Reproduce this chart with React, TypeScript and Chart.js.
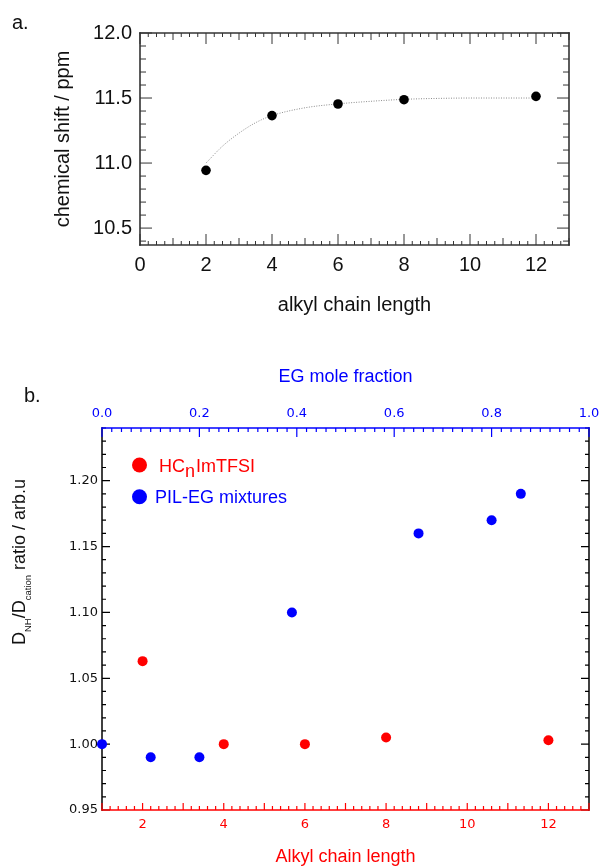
import React, { useEffect, useRef } from 'react';
import { Chart, registerables } from 'chart.js';

Chart.register(...registerables);

// ---------- Panel a data ----------
const CHAIN_LENGTH_A = [2, 4, 6, 8, 12];
const SHIFT_PPM = [10.944, 11.365, 11.454, 11.487, 11.513];
const FIT_X = [2, 2.5, 3, 3.5, 4, 5, 6, 7, 8, 9, 10, 11, 12];
const FIT_Y = [11.0, 11.13, 11.23, 11.31, 11.365, 11.425, 11.455, 11.475, 11.49, 11.497, 11.5, 11.5, 11.5];
const A_X_TICKS = [0, 2, 4, 6, 8, 10, 12];
const A_Y_TICKS = [10.5, 11.0, 11.5, 12.0];

// ---------- Panel b data ----------
const CHAIN_LENGTH_B = [2, 4, 6, 8, 12];
const RATIO_IL = [1.063, 1.0, 1.0, 1.005, 1.003];
const EG_FRACTION = [0.0, 0.1, 0.2, 0.39, 0.65, 0.8, 0.86];
const RATIO_EG = [1.0, 0.99, 0.99, 1.1, 1.16, 1.17, 1.19];
const B_X_TICKS = [2, 4, 6, 8, 10, 12];
const B_X2_TICKS = [0, 0.2, 0.4, 0.6, 0.8, 1.0];
const B_Y_TICKS = [0.95, 1.0, 1.05, 1.1, 1.15, 1.2];

const LEGEND_IL = ['HC', 'n', 'ImTFSI'];
const LEGEND_EG = 'PIL-EG mixtures';
const Y_TITLE_B = [
  { t: 'D', sub: false },
  { t: 'NH', sub: true },
  { t: '/D', sub: false },
  { t: 'cation', sub: true },
  { t: ' ratio / arb.u', sub: false },
];

const SANS = '"Liberation Sans", Arial, sans-serif';
const DV = '"DejaVu Sans", sans-serif';
const RED = '#ff0000';
const BLUE = '#0000ff';

type Level = { step: number; len: number };
type Side = {
  scale: string;
  side: 'left' | 'right' | 'top' | 'bottom';
  color: string;
  width: number;
  tickWidth: number;
  levels: Level[];
};

function framePlugin(sides: Side[], drawText: (ctx: CanvasRenderingContext2D) => void) {
  return {
    id: 'frameTicks',
    beforeDatasetsDraw(chart: any) {
      const { ctx, chartArea } = chart;
      const { left, right, top, bottom } = chartArea;
      ctx.save();
      ctx.lineCap = 'butt';
      for (const s of sides) {
        const sc = chart.scales[s.scale];
        const fine = s.levels[s.levels.length - 1].step;
        const i0 = Math.ceil(sc.min / fine - 1e-6);
        const i1 = Math.floor(sc.max / fine + 1e-6);
        ctx.strokeStyle = s.color;
        ctx.lineWidth = s.tickWidth;
        ctx.beginPath();
        for (let i = i0; i <= i1; i++) {
          const v = i * fine;
          let len = 0;
          for (const lv of s.levels) {
            const r = v / lv.step;
            if (Math.abs(r - Math.round(r)) < 1e-6) {
              len = lv.len;
              break;
            }
          }
          const p = sc.getPixelForValue(v);
          if (s.side === 'left') { ctx.moveTo(left, p); ctx.lineTo(left + len, p); }
          else if (s.side === 'right') { ctx.moveTo(right, p); ctx.lineTo(right - len, p); }
          else if (s.side === 'top') { ctx.moveTo(p, top); ctx.lineTo(p, top + len); }
          else { ctx.moveTo(p, bottom); ctx.lineTo(p, bottom - len); }
        }
        ctx.stroke();
        ctx.lineWidth = s.width;
        const h = s.width / 2;
        ctx.beginPath();
        if (s.side === 'left') { ctx.moveTo(left, top - h); ctx.lineTo(left, bottom + h); }
        else if (s.side === 'right') { ctx.moveTo(right, top - h); ctx.lineTo(right, bottom + h); }
        else if (s.side === 'top') { ctx.moveTo(left - h, top); ctx.lineTo(right + h, top); }
        else { ctx.moveTo(left - h, bottom); ctx.lineTo(right + h, bottom); }
        ctx.stroke();
      }
      ctx.restore();
    },
    afterDraw(chart: any) {
      const ctx = chart.ctx as CanvasRenderingContext2D;
      ctx.save();
      drawText(ctx);
      ctx.restore();
    },
  };
}

function fixedAxis(ticks: number[], decimals: number, opts: any) {
  return {
    type: 'linear',
    grid: { display: false, drawTicks: false },
    border: { display: false },
    afterBuildTicks: (s: any) => {
      s.ticks = ticks.map((v) => ({ value: v }));
    },
    ...opts,
    ticks: {
      autoSkip: false,
      maxRotation: 0,
      callback: (v: any) => Number(v).toFixed(decimals),
      ...opts.ticks,
    },
  };
}

export default function App() {
  const topRef = useRef<HTMLCanvasElement>(null);
  const botRef = useRef<HTMLCanvasElement>(null);

  useEffect(() => {
    Chart.defaults.font.family = SANS;

    const axisGrey = '#333333';
    const xLevels = [{ step: 2, len: 11 }, { step: 1, len: 7 }, { step: 0.25, len: 4 }];
    const yLevels = [{ step: 0.5, len: 12 }, { step: 0.1, len: 6 }];
    const topSides: Side[] = [
      { scale: 'x', side: 'bottom', color: axisGrey, width: 1.6, tickWidth: 1, levels: xLevels },
      { scale: 'x', side: 'top', color: axisGrey, width: 1.6, tickWidth: 1, levels: xLevels },
      { scale: 'y', side: 'left', color: axisGrey, width: 1.6, tickWidth: 1, levels: yLevels },
      { scale: 'y', side: 'right', color: axisGrey, width: 1.6, tickWidth: 1, levels: yLevels },
    ];

    const c1 = new Chart(topRef.current as HTMLCanvasElement, {
      type: 'scatter',
      data: {
        datasets: [
          {
            data: CHAIN_LENGTH_A.map((x, i) => ({ x, y: SHIFT_PPM[i] })),
            backgroundColor: '#000',
            borderWidth: 0,
            pointRadius: 4.8,
            clip: false,
            order: 0,
          } as any,
          {
            data: FIT_X.map((x, i) => ({ x, y: FIT_Y[i] })),
            showLine: true,
            borderColor: '#8a8a8a',
            borderWidth: 1,
            borderDash: [1, 1.5],
            pointRadius: 0,
            cubicInterpolationMode: 'monotone',
            fill: false,
            order: 1,
          } as any,
        ],
      },
      options: {
        responsive: false,
        animation: false,
        layout: { padding: { top: 33, right: 31, left: 0, bottom: 0 } },
        plugins: { legend: { display: false }, tooltip: { enabled: false } },
        scales: {
          x: fixedAxis(A_X_TICKS, 0, {
            position: 'bottom',
            min: 0,
            max: 13,
            afterFit: (s: any) => { s.height = 85; s.paddingLeft = 0; s.paddingRight = 0; },
            ticks: { padding: 8, color: '#111', font: { size: 20, family: SANS } },
            title: { display: true, text: 'alkyl chain length', color: '#111', font: { size: 20, family: SANS }, padding: { top: 0, bottom: 13 } },
          }),
          y: fixedAxis(A_Y_TICKS, 1, {
            position: 'left',
            min: 10.37,
            max: 12.0,
            afterFit: (s: any) => { s.width = 140; s.paddingTop = 0; s.paddingBottom = 0; },
            ticks: { padding: 8, color: '#111', font: { size: 20, family: SANS } },
            title: { display: true, text: 'chemical shift / ppm', color: '#111', font: { size: 20, family: SANS }, padding: { top: 51, bottom: 0 } },
          }),
        } as any,
      },
      plugins: [
        framePlugin(topSides, (ctx) => {
          ctx.fillStyle = '#111';
          ctx.font = `20px ${SANS}`;
          ctx.textBaseline = 'alphabetic';
          ctx.textAlign = 'left';
          ctx.fillText('a.', 12, 29);
        }),
      ],
    } as any);

    const botSides: Side[] = [
      { scale: 'y', side: 'left', color: '#000', width: 1.5, tickWidth: 1.2, levels: [{ step: 0.05, len: 8 }, { step: 0.01, len: 4 }] },
      { scale: 'y', side: 'right', color: '#000', width: 1.5, tickWidth: 1.2, levels: [{ step: 0.05, len: 8 }, { step: 0.01, len: 4 }] },
      { scale: 'x', side: 'bottom', color: RED, width: 1.5, tickWidth: 1.2, levels: [{ step: 1, len: 7 }, { step: 0.2, len: 4 }] },
      { scale: 'x2', side: 'top', color: BLUE, width: 1.5, tickWidth: 1.2, levels: [{ step: 0.2, len: 9 }, { step: 0.02, len: 4 }] },
    ];

    const c2 = new Chart(botRef.current as HTMLCanvasElement, {
      type: 'scatter',
      data: {
        datasets: [
          {
            data: CHAIN_LENGTH_B.map((x, i) => ({ x, y: RATIO_IL[i] })),
            xAxisID: 'x',
            yAxisID: 'y',
            backgroundColor: RED,
            borderWidth: 0,
            pointRadius: 5,
            clip: false,
          } as any,
          {
            data: EG_FRACTION.map((x, i) => ({ x, y: RATIO_EG[i] })),
            xAxisID: 'x2',
            yAxisID: 'y',
            backgroundColor: BLUE,
            borderWidth: 0,
            pointRadius: 5,
            clip: false,
          } as any,
        ],
      },
      options: {
        responsive: false,
        animation: false,
        layout: { padding: { top: 0, right: 11, left: 0, bottom: 0 } },
        plugins: { legend: { display: false }, tooltip: { enabled: false } },
        scales: {
          x: fixedAxis(B_X_TICKS, 0, {
            position: 'bottom',
            min: 1,
            max: 13,
            afterFit: (s: any) => { s.height = 58; s.paddingLeft = 0; s.paddingRight = 0; },
            ticks: { padding: 7, color: RED, font: { size: 13, family: DV } },
            title: { display: true, text: 'Alkyl chain length', color: RED, font: { size: 18, family: SANS }, padding: { top: 0, bottom: 0 } },
          }),
          x2: fixedAxis(B_X2_TICKS, 1, {
            position: 'top',
            min: 0,
            max: 1,
            afterFit: (s: any) => { s.height = 98; s.paddingLeft = 0; s.paddingRight = 0; },
            ticks: { padding: 7, color: BLUE, font: { size: 13, family: DV } },
            title: { display: true, text: 'EG mole fraction', color: BLUE, font: { size: 18, family: SANS }, padding: { top: 36, bottom: 0 } },
          }),
          y: fixedAxis(B_Y_TICKS, 2, {
            position: 'left',
            min: 0.95,
            max: 1.24,
            afterFit: (s: any) => { s.width = 102; s.paddingTop = 0; s.paddingBottom = 0; },
            ticks: { padding: 4, color: '#111', font: { size: 13, family: DV } },
          }),
        } as any,
      },
      plugins: [
        framePlugin(botSides, (ctx) => {
          ctx.textAlign = 'left';
          ctx.textBaseline = 'alphabetic';
          // panel label
          ctx.fillStyle = '#111';
          ctx.font = `20px ${SANS}`;
          ctx.fillText('b.', 24, 72);

          // legend
          const main = `18px ${SANS}`;
          ctx.fillStyle = RED;
          ctx.beginPath();
          ctx.arc(139.5, 135, 7.5, 0, Math.PI * 2);
          ctx.fill();
          ctx.font = main;
          let x = 159;
          ctx.fillText(LEGEND_IL[0], x, 141.7);
          x += ctx.measureText(LEGEND_IL[0]).width;
          ctx.fillText(LEGEND_IL[1], x, 146.7);
          x += ctx.measureText(LEGEND_IL[1]).width + 1;
          ctx.fillText(LEGEND_IL[2], x, 141.7);

          ctx.fillStyle = BLUE;
          ctx.beginPath();
          ctx.arc(139.5, 166.7, 7.5, 0, Math.PI * 2);
          ctx.fill();
          ctx.fillText(LEGEND_EG, 155, 173.3);

          // rotated y-axis title with subscripts
          ctx.save();
          ctx.fillStyle = '#111';
          ctx.translate(25, 315);
          ctx.rotate(-Math.PI / 2);
          let tx = 0;
          for (const part of Y_TITLE_B) {
            ctx.font = part.sub ? `9.5px ${SANS}` : `18px ${SANS}`;
            ctx.fillText(part.t, tx, part.sub ? 6 : 0);
            tx += ctx.measureText(part.t).width;
          }
          ctx.restore();
        }),
      ],
    } as any);

    return () => {
      c1.destroy();
      c2.destroy();
    };
  }, []);

  return (
    <div style={{ position: 'absolute', left: 0, top: 0, width: 600, height: 868, background: '#fff', overflow: 'hidden' }}>
      <canvas ref={topRef} width={600} height={330} style={{ position: 'absolute', left: 0, top: 0, display: 'block' }} />
      <canvas ref={botRef} width={600} height={538} style={{ position: 'absolute', left: 0, top: 330, display: 'block' }} />
    </div>
  );
}
